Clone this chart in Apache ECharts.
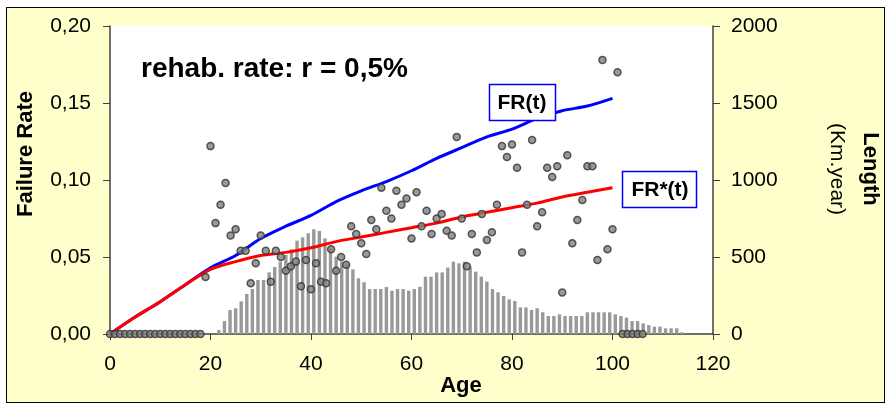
<!DOCTYPE html>
<html>
<head>
<meta charset="utf-8">
<script src="https://cdn.jsdelivr.net/npm/echarts@6/dist/echarts.min.js"></script>
<style>
  body { margin: 0; background: #fff; }
  #frame { position: absolute; left: 6px; top: 7px; width: 877px; height: 394px; border: 1px solid #000; background: #ffffcc; }
  #main { position: absolute; left: 0; top: 0; width: 888px; height: 407px; }
</style>
</head>
<body>
<div id="frame"></div>
<div id="main"></div>
<script>
// ages where the curves were read
const curveAges = [0, 5, 10, 15, 20, 25, 30, 35, 40, 45, 50, 55, 60, 65, 70, 75, 80, 85, 90, 95, 100]
const frValues = [0, 0.011, 0.021, 0.032, 0.043, 0.051, 0.062, 0.070, 0.077, 0.086, 0.093, 0.099, 0.106, 0.114, 0.121, 0.128, 0.133, 0.140, 0.145, 0.148, 0.153]
const frStarValues = [0, 0.011, 0.021, 0.032, 0.042, 0.047, 0.051, 0.053, 0.056, 0.060, 0.063, 0.066, 0.069, 0.072, 0.076, 0.079, 0.082, 0.085, 0.089, 0.092, 0.095]

// observed failure rate per age, ages 0..106
const observed = [
  0, 0, 0, 0, 0, 0, 0, 0, 0, 0, 0, 0, 0, 0, 0, 0, 0, 0, 0,
  0.037, 0.122, 0.072, 0.084, 0.098, 0.064, 0.068, 0.054, 0.054, 0.033, 0.046,
  0.064, 0.054, 0.034, 0.054, 0.050, 0.041, 0.044, 0.047, 0.031, 0.048,
  0.029, 0.046, 0.034, 0.033, 0.055, 0.041, 0.050, 0.045, 0.070, 0.065,
  0.059, 0.052, 0.074, 0.068, 0.095, 0.080, 0.075, 0.093, 0.084, 0.088,
  0.062, 0.092, 0.070, 0.080, 0.065, 0.075, 0.078, 0.067, 0.064, 0.128,
  0.075, 0.044, 0.065, 0.053, 0.078, 0.061, 0.066, 0.084, 0.122, 0.115,
  0.123, 0.108, 0.053, 0.084, 0.126, 0.070, 0.079, 0.108, 0.102, 0.109,
  0.027, 0.116, 0.059, 0.074, 0.087, 0.109, 0.109, 0.048, 0.178, 0.055,
  0.068, 0.170, 0, 0, 0, 0, 0
]

// length (km.year) histogram, 108 classes, first bar at class 19
const lengthClassCount = 108
const lengthFirstClass = 19
const lengthValues = [
  26, 84, 156, 167, 212, 260, 292, 351, 351, 400, 435, 470, 513, 550, 606, 628, 654,
  680, 669, 621, 556, 502, 470, 459, 420, 362, 336, 292, 292, 292, 305, 281, 292, 292,
  281, 292, 307, 372, 372, 400, 400, 431, 470, 459, 470, 437, 405, 372, 340, 292, 271,
  247, 225, 214, 173, 173, 156, 167, 141, 117, 117, 128, 117, 117, 117, 117, 141, 141,
  141, 141, 141, 128, 117, 106, 84, 84, 69, 58, 48, 48, 37, 37, 37, 11
]

const classes = []
const bars = []
for (let i = 0; i < lengthClassCount; i++) {
  classes.push(String(i))
  const j = i - lengthFirstClass
  bars.push(j >= 0 && j < lengthValues.length ? lengthValues[j] : null)
}
const frLine = curveAges.map((a, i) => [a, frValues[i]])
const frStarLine = curveAges.map((a, i) => [a, frStarValues[i]])
const dots = observed.map((v, i) => [i, v])

const font = 'Liberation Sans, Arial, sans-serif'
const axisCol = '#404040'

const chart = echarts.init(document.getElementById('main'))
chart.setOption({
  backgroundColor: 'transparent',
  animation: false,
  textStyle: { fontFamily: font },
  grid: { left: 110, right: 175, top: 26, bottom: 73, show: true, backgroundColor: '#fff', borderWidth: 0 },
  xAxis: [{
    type: 'value', min: 0, max: 120, interval: 20,
    axisLine: { show: true, onZero: false, lineStyle: { color: axisCol, width: 1.5 } },
    axisTick: { show: true, length: 6, lineStyle: { color: axisCol } },
    axisLabel: { color: '#000', fontSize: 21, margin: 20, fontFamily: font },
    splitLine: { show: false }
  }, {
    type: 'category', data: classes, boundaryGap: true, show: false
  }],
  yAxis: [{
    type: 'value', min: 0, max: 0.2, interval: 0.05,
    axisLine: { show: true, lineStyle: { color: axisCol, width: 1.5 } },
    axisTick: { show: true, length: 7, lineStyle: { color: axisCol } },
    axisLabel: { color: '#000', fontSize: 21, margin: 19, fontFamily: font,
      formatter: v => v.toFixed(2).replace('.', ',') },
    splitLine: { show: false }
  }, {
    type: 'value', min: 0, max: 2000, interval: 500, position: 'right',
    axisLine: { show: true, lineStyle: { color: axisCol, width: 1.5 } },
    axisTick: { show: true, length: 7, lineStyle: { color: axisCol } },
    axisLabel: { color: '#000', fontSize: 21, margin: 18, fontFamily: font,
      formatter: v => String(v) },
    splitLine: { show: false }
  }],
  series: [{
    type: 'bar', xAxisIndex: 1, yAxisIndex: 1, data: bars, barWidth: 3.4,
    itemStyle: { color: '#999999' }, z: 1
  }, {
    type: 'line', data: frLine, showSymbol: false, smooth: 0.3,
    lineStyle: { color: '#0000ff', width: 3 }, z: 2
  }, {
    type: 'line', data: frStarLine, showSymbol: false, smooth: 0.3,
    lineStyle: { color: '#ff0000', width: 3 }, z: 3
  }, {
    type: 'scatter', data: dots, symbolSize: 7,
    itemStyle: { color: '#808080', borderColor: '#333', borderWidth: 1.5 }, z: 4
  }],
  graphic: [
    { type: 'text', left: 141, top: 55,
      style: { text: 'rehab. rate: r = 0,5%', font: 'bold 28px ' + font, fill: '#000' } },
    { type: 'rect', shape: { x: 489.5, y: 84.5, width: 66, height: 36 },
      style: { fill: '#fff', stroke: '#0000ff', lineWidth: 1.5 }, z: 10 },
    { type: 'text', x: 522, y: 103, z: 11,
      style: { text: 'FR(t)', font: 'bold 21px ' + font, fill: '#000', textAlign: 'center', textVerticalAlign: 'middle' } },
    { type: 'rect', shape: { x: 622.5, y: 171.5, width: 74, height: 36 },
      style: { fill: '#fff', stroke: '#0000ff', lineWidth: 1.5 }, z: 10 },
    { type: 'text', x: 660, y: 190, z: 11,
      style: { text: 'FR*(t)', font: 'bold 21px ' + font, fill: '#000', textAlign: 'center', textVerticalAlign: 'middle' } },
    { type: 'text', x: 26, y: 154, rotation: Math.PI / 2,
      style: { text: 'Failure Rate', font: 'bold 22px ' + font, fill: '#000', textAlign: 'center', textVerticalAlign: 'middle' } },
    { type: 'text', x: 870, y: 169, rotation: -Math.PI / 2,
      style: { text: 'Length', font: 'bold 22px ' + font, fill: '#000', textAlign: 'center', textVerticalAlign: 'middle' } },
    { type: 'text', x: 837, y: 169, rotation: -Math.PI / 2,
      style: { text: '(Km.year)', font: '21px ' + font, fill: '#000', textAlign: 'center', textVerticalAlign: 'middle' } },
    { type: 'text', x: 461, y: 386,
      style: { text: 'Age', font: 'bold 22px ' + font, fill: '#000', textAlign: 'center', textVerticalAlign: 'middle' } }
  ]
})
</script>
</body>
</html>
